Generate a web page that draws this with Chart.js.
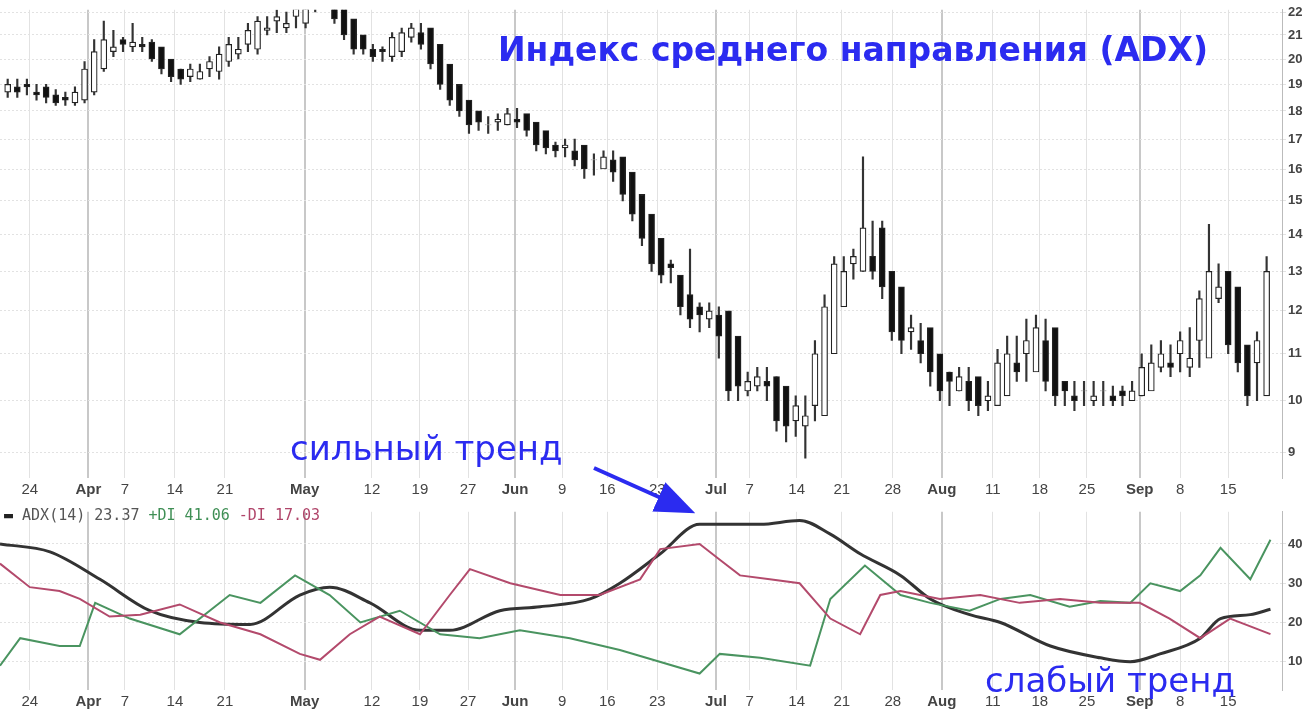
<!DOCTYPE html>
<html lang="ru">
<head>
    <meta charset="UTF-8">
    <title>ADX</title>
    <script src="https://cdn.jsdelivr.net/npm/chart.js"></script>
    <style>
        body { margin: 0; background: #fff; font-family: 'Liberation Sans', Arial, sans-serif; }
        #wrap { position: relative; width: 1310px; height: 714px; overflow: hidden; }
        #priceBox { position: absolute; left: 0; top: 0; width: 1310px; height: 502px; }
        #adxBox { position: absolute; left: 0; top: 502px; width: 1310px; height: 212px; }
        .note { position: absolute; color: #2b2bf0; white-space: nowrap; font-family: 'DejaVu Sans', sans-serif; }
        #title { left: 498px; top: 30px; font-size: 33px; font-weight: bold; }
        #strong { left: 290px; top: 428px; font-size: 34px; }
        #weak { left: 985px; top: 660px; font-size: 34px; }
        #legend { position: absolute; left: 4px; top: 506px; font-family: 'DejaVu Sans Mono', monospace; font-size: 15px; color: #555; }
        #arrow { position: absolute; left: 0; top: 0; pointer-events: none; }
    </style>
</head>
<body>
<div id="wrap">
    <div id="priceBox"><canvas id="priceChart"></canvas></div>
    <div id="adxBox"><canvas id="adxChart"></canvas></div>
    <div class="note" id="title">Индекс среднего направления (ADX)</div>
    <div class="note" id="strong">сильный тренд</div>
    <div class="note" id="weak">слабый тренд</div>
    <div id="legend"><b style="color:#222">&#9644;</b> ADX(14) 23.37 <span style="color:#3f8f55">+DI 41.06</span> <span style="color:#b0456a">-DI 17.03</span></div>
    <svg id="arrow" width="1310" height="714">
        <defs><marker id="head" markerWidth="10" markerHeight="8" refX="8" refY="4" orient="auto">
            <path d="M0,0 L10,4 L0,8 z" fill="#2b2bf0"/></marker></defs>
        <line x1="594" y1="468" x2="688" y2="510" stroke="#2b2bf0" stroke-width="4" marker-end="url(#head)"/>
    </svg>
</div>

<script>
    // trading-day index axis, labels at weekly positions
    const tickPos = [2.3, 8.4, 12.2, 17.4, 22.6, 30.9, 37.9, 42.9, 47.9, 52.8, 57.7, 62.4, 67.6, 73.7, 77.2, 82.1, 86.8, 92.1, 97.2, 102.5, 107.4, 112.3, 117.8, 122.0, 127.0];
    const tickLabels = ['24', 'Apr', '7', '14', '21', 'May', '12', '19', '27', 'Jun', '9', '16', '23', 'Jul', '7', '14', '21', '28', 'Aug', '11', '18', '25', 'Sep', '8', '15'];
    const months = ['Apr', 'May', 'Jun', 'Jul', 'Aug', 'Sep'];
    const priceTicks = [9, 10, 11, 12, 13, 14, 15, 16, 17, 18, 19, 20, 21, 22];

    const opens = [
        18.7, 18.9, 19.0, 18.7, 18.9, 18.6, 18.5, 18.3, 18.4, 18.7, 19.6,
        20.3, 20.8, 20.5, 20.6, 20.7, 20.5, 20.0, 19.6, 19.3, 19.2, 19.6, 19.5,
        19.9, 20.2, 20.6, 20.4, 21.2, 21.6, 21.3, 21.8, 21.5, 22.3, 22.5, 22.6, 22.4,
        21.7, 21.0, 20.4, 20.4, 20.1, 20.3, 20.9, 21.1, 21.3, 20.6, 19.8, 19.0, 18.4,
        18.0, 17.5, 17.6, 17.5, 17.7, 17.9, 17.6, 17.3, 16.8, 16.7, 16.6, 16.8, 16.3, 16.0,
        16.3, 16.4, 15.9, 15.2, 14.6, 13.9, 13.2, 12.9, 12.4, 12.1, 11.8, 11.9,
        12.0, 11.4, 10.2, 10.3, 10.4, 10.5, 10.3, 9.6, 9.5, 9.9, 9.7, 11.0, 12.1, 13.2, 13.0,
        13.4, 14.2, 13.0, 12.6, 11.5, 11.3, 11.6, 11.0, 10.6, 10.2, 10.4, 10.5, 10.0, 9.9,
        10.1, 10.8, 11.0, 10.6, 11.3, 11.6, 10.4, 10.1, 10.2, 10.0, 10.2, 10.1, 10.2, 10.0, 10.1,
        10.2, 10.7, 10.8, 11.0, 10.7, 11.3, 10.9, 12.3, 13.0, 12.6, 11.2, 10.8, 10.1, 13.0
    ];
    const closes = [
        19.0, 18.7, 18.9, 18.6, 18.5, 18.3, 18.4, 18.7, 19.6, 20.3, 20.8,
        20.5, 20.6, 20.7, 20.5, 20.0, 19.6, 19.3, 19.2, 19.6, 19.5, 19.9, 20.2,
        20.6, 20.4, 21.2, 21.6, 21.3, 21.8, 21.5, 22.3, 22.5, 22.6, 22.4, 21.7, 21.0,
        20.4, 20.4, 20.1, 20.3, 20.9, 21.1, 21.3, 20.6, 19.8, 19.0, 18.4, 18.0, 17.5,
        17.6, 17.5, 17.7, 17.9, 17.6, 17.3, 16.8, 16.7, 16.6, 16.8, 16.3, 16.0, 16.3, 16.4,
        15.9, 15.2, 14.6, 13.9, 13.2, 12.9, 13.1, 12.1, 11.8, 11.9, 12.0, 11.4,
        10.2, 10.3, 10.4, 10.5, 10.3, 9.6, 9.5, 9.9, 9.7, 11.0, 12.1, 13.2, 13.0, 13.4, 14.2,
        13.0, 12.6, 11.5, 11.3, 11.6, 11.0, 10.6, 10.2, 10.4, 10.5, 10.0, 9.9, 10.1, 10.8,
        11.0, 10.6, 11.3, 11.6, 10.4, 10.1, 10.2, 10.0, 10.2, 10.1, 10.2, 10.0, 10.1, 10.2, 10.7,
        10.8, 11.0, 10.7, 11.3, 10.9, 12.3, 13.0, 12.6, 11.2, 10.8, 10.1, 11.3, 13.0
    ];
    const highs = [
        19.2, 19.2, 19.2, 19.0, 19.0, 18.8, 18.7, 18.9, 19.9, 20.8, 21.6,
        21.2, 20.9, 21.5, 20.9, 20.8, 20.3, 19.8, 19.6, 19.8, 19.8, 20.1, 20.5,
        20.9, 20.9, 21.5, 21.8, 21.8, 22.1, 22.0, 22.6, 22.8, 23.0, 22.8, 22.6, 21.9,
        21.2, 20.6, 20.6, 20.5, 21.1, 21.3, 21.5, 21.5, 20.8, 20.0, 19.2, 18.6, 18.2,
        17.9, 17.8, 17.9, 18.1, 18.1, 17.8, 17.5, 17.0, 16.9, 17.0, 17.0, 16.5, 16.5, 16.6,
        16.6, 16.1, 15.4, 14.8, 14.1, 13.4, 13.3, 12.6, 13.6, 12.2, 12.2, 12.1,
        11.6, 10.6, 10.6, 10.7, 10.7, 10.5, 9.8, 10.1, 10.1, 11.3, 12.4, 13.4, 13.4, 13.6, 16.4,
        14.4, 14.4, 12.9, 11.8, 11.9, 11.7, 11.2, 10.8, 10.6, 10.7, 10.7, 10.2, 10.4, 11.1,
        11.4, 11.4, 11.8, 11.9, 11.8, 10.6, 10.4, 10.4, 10.4, 10.4, 10.4, 10.3, 10.3, 10.4, 11.0,
        11.2, 11.3, 11.2, 11.5, 11.6, 12.5, 14.3, 13.2, 12.8, 11.4, 11.1, 11.5, 13.4
    ];
    const lows = [
        18.5, 18.5, 18.6, 18.4, 18.3, 18.2, 18.2, 18.2, 18.3, 18.6, 19.5,
        20.1, 20.3, 20.3, 20.3, 19.9, 19.4, 19.1, 19.0, 19.1, 19.2, 19.3, 19.2,
        19.7, 20.0, 20.3, 20.2, 21.0, 21.1, 21.1, 21.3, 21.3, 22.0, 22.2, 21.5, 20.8,
        20.2, 20.2, 19.9, 19.9, 19.9, 20.1, 20.7, 20.4, 19.6, 18.8, 18.2, 17.8, 17.2,
        17.3, 17.2, 17.3, 17.5, 17.4, 17.1, 16.6, 16.5, 16.4, 16.4, 16.1, 15.7, 15.8, 16.1,
        15.6, 15.0, 14.4, 13.7, 13.0, 12.7, 12.7, 11.9, 11.6, 11.5, 11.6, 10.9,
        10.0, 10.0, 10.1, 10.2, 10.0, 9.4, 9.2, 9.3, 8.9, 9.6, 10.8, 11.9, 12.7, 12.8, 13.0,
        12.8, 12.3, 11.3, 11.0, 11.1, 10.8, 10.3, 10.0, 9.9, 10.2, 9.8, 9.7, 9.8, 10.0,
        10.6, 10.4, 10.4, 11.0, 10.2, 9.9, 9.9, 9.8, 9.9, 9.9, 9.9, 9.9, 9.9, 10.0, 10.1,
        10.6, 10.6, 10.5, 10.6, 10.5, 10.7, 12.1, 12.2, 11.0, 10.6, 9.9, 10.0, 12.1
    ];

    // ADX panel: positions (trading-day index) and values
    const adxX = [-0.8, 4.4, 9.6, 14.8, 20.0, 25.2, 30.4, 33.5, 37.7, 42.9, 46.0, 51.2, 55.4, 60.6, 63.7, 67.9, 72.0, 78.3, 82.4, 85.6, 88.7, 92.9, 96.0, 100.1, 103.3, 108.5, 113.7, 116.8, 119.9, 124.1, 126.2, 129.3, 131.4];
    const adxY = [40, 38, 31, 23, 20, 19.5, 27, 29, 25, 18, 18, 23, 24, 26, 30, 37.5, 45, 45, 46, 42.5, 37.5, 32, 26, 22, 20, 14, 11, 10, 12, 16, 21, 22, 23.37];
    const plusX = [-0.8, 1.3, 5.4, 7.5, 9.1, 12.7, 17.9, 23.1, 26.3, 29.9, 33.5, 36.7, 40.8, 45.0, 49.1, 53.3, 58.5, 63.7, 72.0, 74.1, 78.3, 83.5, 85.6, 89.2, 92.9, 96.0, 100.1, 103.3, 106.4, 110.5, 113.7, 116.8, 118.9, 122.0, 124.1, 126.2, 129.3, 131.4];
    const plusY = [9, 16, 14, 14, 25, 21, 17, 27, 25, 32, 27, 20, 23, 17, 16, 18, 16, 13, 7, 12, 11, 9, 26, 34.5, 27, 25, 23, 26, 27, 24, 25.5, 25, 30, 28, 32, 39, 31, 41.06];
    const minusX = [-0.8, 2.3, 5.4, 7.5, 10.6, 13.8, 17.9, 22.1, 26.3, 30.4, 32.5, 35.6, 38.7, 42.9, 46.0, 48.1, 52.3, 57.5, 61.6, 65.8, 67.9, 72.0, 74.1, 76.2, 79.3, 82.4, 85.6, 88.7, 90.8, 92.9, 97.0, 101.2, 105.3, 109.5, 113.7, 117.8, 120.9, 124.1, 127.2, 131.4];
    const minusY = [35, 29, 28, 26, 21.5, 22, 24.6, 20, 17, 12, 10.5, 17, 21.5, 17, 27, 33.6, 30, 27, 27, 31, 38.7, 40, 36, 32, 31, 30, 21, 17, 27, 28, 26, 27, 25, 26, 25, 25, 21, 16, 21, 17.03];

    const X_MIN = -0.8, X_MAX = 132.6;

    function timeAxis() {
        return {
            type: 'linear', min: X_MIN, max: X_MAX, offset: false,
            afterBuildTicks: axis => { axis.ticks = tickPos.map(v => ({ value: v })); },
            ticks: {
                autoSkip: false, maxRotation: 0, color: '#444',
                font: ctx => ({ size: 15, weight: months.includes(tickLabels[ctx.index]) ? 'bold' : 'normal' }),
                callback: (v, i) => tickLabels[i]
            },
            grid: {
                offset: false,
                color: ctx => (ctx.tick && months.includes(tickLabels[ctx.index])) ? '#c8c8c8' : '#e2e2e2',
                lineWidth: ctx => (ctx.tick && months.includes(tickLabels[ctx.index])) ? 2 : 1,
                drawTicks: false
            },
            border: { display: false }
        };
    }
    function rightAxis(extra) {
        return Object.assign({
            position: 'right',
            afterFit: s => { s.width = 28; },
            grid: { color: '#e2e2e2', drawTicks: true, tickLength: 4 },
            border: { color: '#bbb', dash: [2, 2] },
            ticks: { color: '#444', font: { size: 13, weight: 'bold' }, padding: 2 }
        }, extra);
    }

    const wicks = highs.map((h, i) => ({ x: i, y: [lows[i], h] }));
    const bodies = opens.map((o, i) => ({ x: i, y: [Math.min(o, closes[i]), Math.max(o, closes[i]) + 0.001] }));
    const bodyColors = opens.map((o, i) => closes[i] < o ? '#111' : '#fff');

    new Chart(document.getElementById('priceChart'), {
        type: 'bar',
        data: {
            datasets: [
                { data: wicks, backgroundColor: '#333', barThickness: 1.5, grouped: false, order: 2 },
                { data: bodies, backgroundColor: bodyColors, borderColor: '#222', borderWidth: 1.2, borderSkipped: false, barThickness: 6, grouped: false, order: 1 }
            ]
        },
        options: {
            animation: false, responsive: true, maintainAspectRatio: false,
            layout: { padding: 0 },
            plugins: { legend: { display: false }, tooltip: { enabled: false } },
            scales: {
                x: timeAxis(),
                y: rightAxis({
                    type: 'logarithmic', min: 8.55, max: 22.1,
                    afterBuildTicks: axis => { axis.ticks = priceTicks.map(v => ({ value: v })); },
                    ticks: { color: '#444', font: { size: 13, weight: 'bold' }, padding: 2, callback: v => String(v) }
                })
            }
        }
    });

    const pts = (xs, ys) => xs.map((x, i) => ({ x: x, y: ys[i] }));

    new Chart(document.getElementById('adxChart'), {
        type: 'line',
        data: {
            datasets: [
                { data: pts(minusX, minusY), borderColor: '#b34a6c', borderWidth: 2, pointRadius: 0, tension: 0 },
                { data: pts(plusX, plusY), borderColor: '#4a9460', borderWidth: 2, pointRadius: 0, tension: 0 },
                { data: pts(adxX, adxY), borderColor: '#333', borderWidth: 3, pointRadius: 0, cubicInterpolationMode: 'monotone' }
            ]
        },
        options: {
            animation: false, responsive: true, maintainAspectRatio: false,
            layout: { padding: { top: 6 } },
            plugins: { legend: { display: false }, tooltip: { enabled: false } },
            scales: {
                x: timeAxis(),
                y: rightAxis({
                    min: 2.8, max: 48.2,
                    afterBuildTicks: axis => { axis.ticks = [10, 20, 30, 40].map(v => ({ value: v })); }
                })
            }
        }
    });
</script>
</body>
</html>
